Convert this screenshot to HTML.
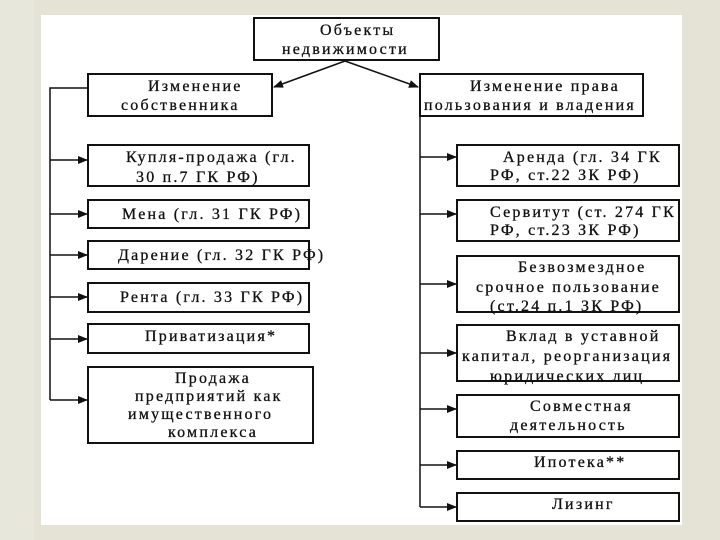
<!DOCTYPE html>
<html><head><meta charset="utf-8"><style>
html,body{margin:0;padding:0;width:720px;height:540px;overflow:hidden;background:#e5e3d5}
svg{display:block}
text{font-family:"Liberation Serif","DejaVu Serif",serif;font-size:16px;letter-spacing:2.2px;fill:#111;stroke:#111;stroke-width:0.3}
</style></head><body>
<svg width="720" height="540" viewBox="0 0 720 540" xmlns="http://www.w3.org/2000/svg">
<defs><marker id="a" markerWidth="10" markerHeight="8" refX="9" refY="4" orient="auto" markerUnits="userSpaceOnUse"><path d="M0,0 L10,4 L0,8 z" fill="#111"/></marker></defs>
<rect x="0" y="0" width="34" height="540" fill="#e8e7dc"/>
<rect x="41" y="15" width="641" height="510" fill="#fff"/>
<g fill="none" stroke="#111" stroke-width="2">
<rect x="254" y="18" width="185" height="42"/>
<rect x="88" y="74" width="184" height="42"/>
<rect x="420" y="74" width="223" height="42"/>
<rect x="88" y="145" width="221" height="41"/>
<rect x="88" y="200" width="221" height="28"/>
<rect x="88" y="241" width="221" height="28"/>
<rect x="88" y="283" width="221" height="29"/>
<rect x="88" y="324" width="221" height="29"/>
<rect x="88" y="367" width="225" height="76"/>
<rect x="457" y="145" width="222" height="41"/>
<rect x="457" y="200" width="222" height="41"/>
<rect x="457" y="256" width="222" height="56"/>
<rect x="457" y="325" width="222" height="56"/>
<rect x="457" y="395" width="222" height="42"/>
<rect x="457" y="451" width="222" height="28"/>
<rect x="457" y="493" width="222" height="28"/>
</g>
<g stroke="#111" stroke-width="1.5" fill="none">
<line x1="345" y1="61" x2="274" y2="87" marker-end="url(#a)"/>
<line x1="345" y1="61" x2="418" y2="87" marker-end="url(#a)"/>
<polyline points="88,88 50,88 50,400"/>
<line x1="50" y1="160" x2="87" y2="160" marker-end="url(#a)"/>
<line x1="50" y1="214" x2="87" y2="214" marker-end="url(#a)"/>
<line x1="50" y1="255" x2="87" y2="255" marker-end="url(#a)"/>
<line x1="50" y1="297" x2="87" y2="297" marker-end="url(#a)"/>
<line x1="50" y1="339" x2="87" y2="339" marker-end="url(#a)"/>
<line x1="50" y1="400" x2="87" y2="400" marker-end="url(#a)"/>
<line x1="420" y1="116" x2="420" y2="507"/>
<line x1="420" y1="157" x2="456" y2="157" marker-end="url(#a)"/>
<line x1="420" y1="214" x2="456" y2="214" marker-end="url(#a)"/>
<line x1="420" y1="284" x2="456" y2="284" marker-end="url(#a)"/>
<line x1="420" y1="353" x2="456" y2="353" marker-end="url(#a)"/>
<line x1="420" y1="409" x2="456" y2="409" marker-end="url(#a)"/>
<line x1="420" y1="465" x2="456" y2="465" marker-end="url(#a)"/>
<line x1="420" y1="507" x2="456" y2="507" marker-end="url(#a)"/>
</g>
<text x="320" y="35">Объекты</text>
<text x="282" y="54">недвижимости</text>
<text x="148" y="91">Изменение</text>
<text x="121" y="110">собственника</text>
<text x="470" y="91">Изменение права</text>
<text x="424" y="110">пользования и владения</text>
<text x="126" y="162">Купля-продажа (гл.</text>
<text x="136" y="182">30 п.7 ГК РФ)</text>
<text x="122" y="219">Мена (гл. 31 ГК РФ)</text>
<text x="118" y="260">Дарение (гл. 32 ГК РФ)</text>
<text x="120" y="302">Рента (гл. 33 ГК РФ)</text>
<text x="145" y="341">Приватизация*</text>
<text x="175" y="383">Продажа</text>
<text x="135" y="401">предприятий как</text>
<text x="128" y="419">имущественного</text>
<text x="168" y="437">комплекса</text>
<text x="503" y="162">Аренда (гл. 34 ГК</text>
<text x="490" y="180">РФ, ст.22 ЗК РФ)</text>
<text x="490" y="217">Сервитут (ст. 274 ГК</text>
<text x="490" y="235">РФ, ст.23 ЗК РФ)</text>
<text x="518" y="272">Безвозмездное</text>
<text x="476" y="292">срочное пользование</text>
<text x="490" y="311">(ст.24 п.1 ЗК РФ)</text>
<text x="506" y="341">Вклад в уставной</text>
<text x="462" y="361">капитал, реорганизация</text>
<text x="490" y="381">юридических лиц</text>
<text x="530" y="411">Совместная</text>
<text x="510" y="430">деятельность</text>
<text x="534" y="467">Ипотека**</text>
<text x="552" y="509">Лизинг</text>
</svg>
</body></html>
